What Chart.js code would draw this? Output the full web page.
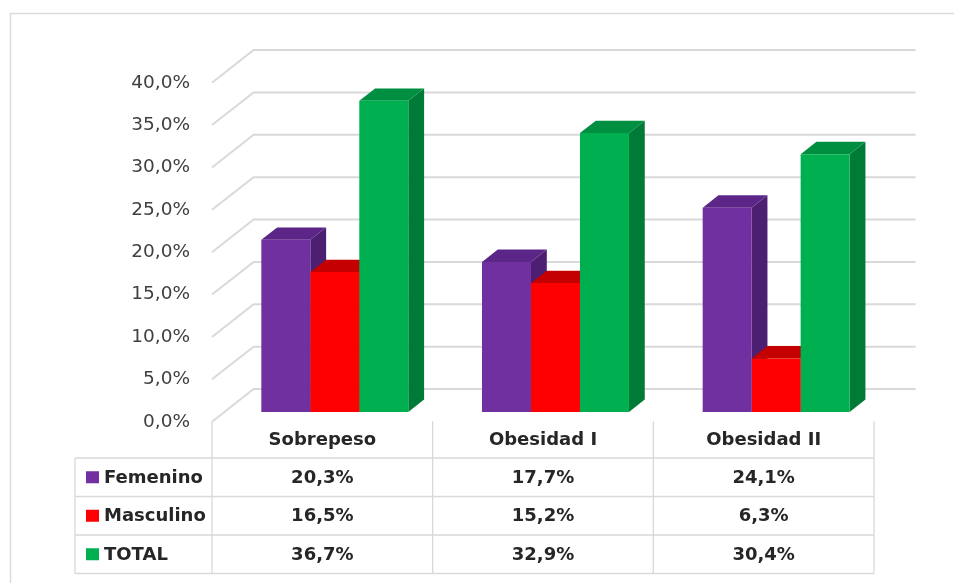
<!DOCTYPE html>
<html>
<head>
<meta charset="utf-8">
<script src="https://cdn.jsdelivr.net/npm/chart.js@4.4.1/dist/chart.umd.min.js"></script>
<style>
  html, body { margin: 0; padding: 0; background: #fff; }
  canvas { display: block; }
</style>
</head>
<body>
<canvas id="grafico" width="954" height="583"></canvas>
<script>
const categorias = ['Sobrepeso', 'Obesidad I', 'Obesidad II'];
const femenino = [20.3, 17.7, 24.1];
const masculino = [16.5, 15.2, 6.3];
const total = [36.7, 32.9, 30.4];
const series = ['Femenino', 'Masculino', 'TOTAL'];

// frente, lateral y tapa de cada serie
const colores = [
  { frente: '#7030A0', lado: '#4C1F72', tapa: '#5C2689' },
  { frente: '#FF0000', lado: '#A80000', tapa: '#C40000' },
  { frente: '#00B050', lado: '#007A37', tapa: '#008F41' }
];

// vector de profundidad de la pared del fondo
const FONDO = { x: 41.6, y: -32.7 };
const PLANO_BARRAS = 0.3;
const GROSOR = 0.38;
const GRIS = '#d9d9d9';

const fmt = v => v.toFixed(1).replace('.', ',') + '%';

const efecto3d = {
  id: 'efecto3d',
  beforeDraw(chart) {
    const ctx = chart.ctx;
    const { left, right } = chart.chartArea;
    const y = chart.scales.y;
    ctx.save();
    // marco
    ctx.strokeStyle = '#dcdcdc';
    ctx.lineWidth = 1.5;
    ctx.beginPath();
    ctx.moveTo(954, 13.5);
    ctx.lineTo(10.5, 13.5);
    ctx.lineTo(10.5, 583);
    ctx.stroke();
    // lineas de division sobre la pared del fondo
    ctx.strokeStyle = GRIS;
    ctx.lineWidth = 2;
    y.ticks.forEach(t => {
      const py = y.getPixelForValue(t.value);
      ctx.beginPath();
      ctx.moveTo(left, py);
      ctx.lineTo(left + FONDO.x, py + FONDO.y);
      ctx.lineTo(right + FONDO.x, py + FONDO.y);
      ctx.stroke();
    });
    ctx.restore();
  },
  beforeDatasetsDraw(chart) {
    const ctx = chart.ctx;
    ctx.save();
    ctx.translate(FONDO.x * PLANO_BARRAS, FONDO.y * PLANO_BARRAS);
    const dx = FONDO.x * GROSOR, dy = FONDO.y * GROSOR;
    categorias.forEach((c, i) => {
      chart.data.datasets.forEach((ds, d) => {
        const bar = chart.getDatasetMeta(d).data[i];
        const x0 = bar.x - bar.width / 2, x1 = bar.x + bar.width / 2;
        const top = bar.y, base = bar.base;
        ctx.fillStyle = colores[d].lado;
        ctx.beginPath();
        ctx.moveTo(x1, top);
        ctx.lineTo(x1 + dx, top + dy);
        ctx.lineTo(x1 + dx, base + dy);
        ctx.lineTo(x1, base);
        ctx.closePath();
        ctx.fill();
        ctx.fillStyle = colores[d].tapa;
        ctx.beginPath();
        ctx.moveTo(x0, top);
        ctx.lineTo(x1, top);
        ctx.lineTo(x1 + dx, top + dy);
        ctx.lineTo(x0 + dx, top + dy);
        ctx.closePath();
        ctx.fill();
      });
    });
  },
  afterDatasetsDraw(chart) {
    chart.ctx.restore();
  },
  afterDraw(chart) {
    const ctx = chart.ctx;
    const { left, right, bottom } = chart.chartArea;
    const xs = chart.scales.x;
    const ancho = (right - left) / categorias.length;
    const filaAlto = 38.5;
    const yCab = bottom - 0.5;
    const y0 = 458;
    const xEtiq = 75;
    const filas = [femenino, masculino, total];

    ctx.save();
    ctx.strokeStyle = GRIS;
    ctx.lineWidth = 1.3;
    // lineas horizontales
    for (let r = 0; r <= 3; r++) {
      const py = y0 + r * filaAlto;
      ctx.beginPath();
      ctx.moveTo(xEtiq, py);
      ctx.lineTo(right, py);
      ctx.stroke();
    }
    // lineas verticales
    for (let c = 0; c <= categorias.length; c++) {
      const px = left + c * ancho;
      ctx.beginPath();
      ctx.moveTo(px, yCab);
      ctx.lineTo(px, y0 + 3 * filaAlto);
      ctx.stroke();
    }
    ctx.beginPath();
    ctx.moveTo(xEtiq, y0);
    ctx.lineTo(xEtiq, y0 + 3 * filaAlto);
    ctx.stroke();

    ctx.fillStyle = '#262626';
    ctx.font = 'bold 18px "DejaVu Sans"';
    ctx.textAlign = 'center';
    ctx.textBaseline = 'middle';
    categorias.forEach((c, i) => {
      const px = xs.getPixelForValue(i);
      ctx.fillText(c, px, (yCab + y0) / 2 + 1);
      filas.forEach((f, r) => {
        ctx.fillText(fmt(f[i]), px, y0 + (r + 0.5) * filaAlto + 1);
      });
    });

    // leyenda de la tabla
    ctx.textAlign = 'left';
    series.forEach((s, r) => {
      const cy = y0 + (r + 0.5) * filaAlto;
      ctx.fillStyle = colores[r].frente;
      ctx.fillRect(86, cy - 6, 13, 12);
      ctx.fillStyle = '#262626';
      ctx.fillText(s, 104, cy + 1);
    });
    ctx.restore();
  }
};

new Chart(document.getElementById('grafico'), {
  type: 'bar',
  data: {
    labels: categorias,
    datasets: [
      { label: series[0], data: femenino, backgroundColor: colores[0].frente },
      { label: series[1], data: masculino, backgroundColor: colores[1].frente },
      { label: series[2], data: total, backgroundColor: colores[2].frente }
    ]
  },
  options: {
    responsive: false,
    animation: false,
    layout: { padding: { left: 0, right: 80, top: 82.7, bottom: 161.3 } },
    datasets: { bar: { categoryPercentage: 0.666, barPercentage: 1, clip: false } },
    scales: {
      x: { display: false },
      y: {
        min: 0,
        max: 40,
        ticks: {
          stepSize: 5,
          padding: 14,
          color: '#404040',
          font: { family: '"DejaVu Sans"', size: 18.5 },
          callback: v => fmt(v)
        },
        grid: { display: false },
        border: { display: false },
        afterFit: s => { s.width = 212; }
      }
    },
    plugins: {
      legend: { display: false },
      tooltip: { enabled: false }
    }
  },
  plugins: [efecto3d]
});
</script>
</body>
</html>
